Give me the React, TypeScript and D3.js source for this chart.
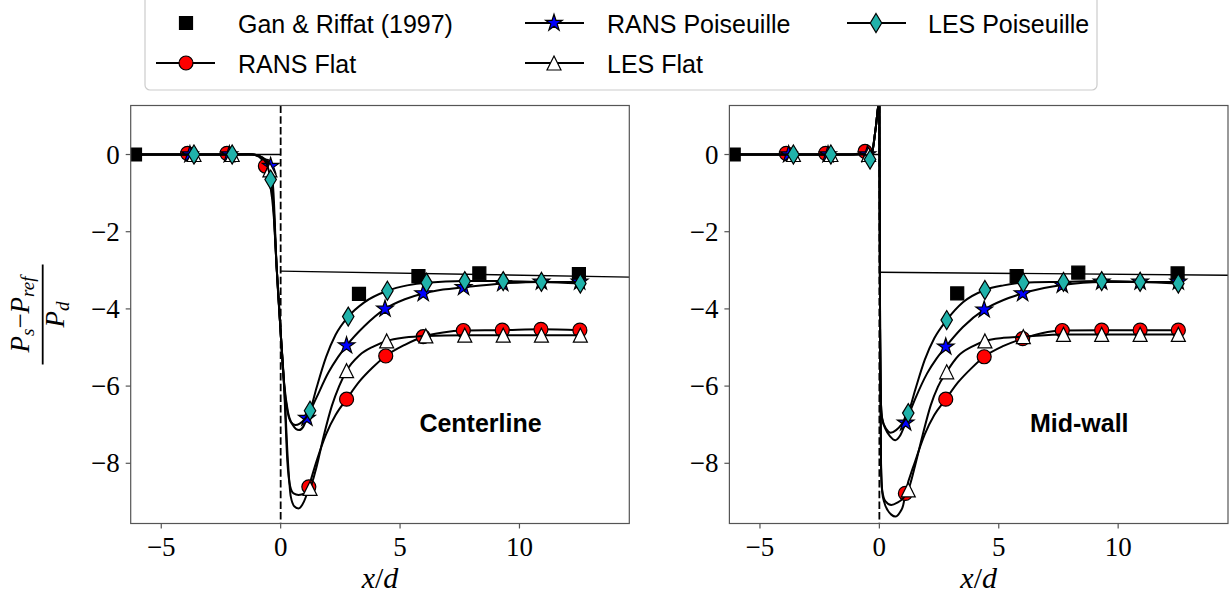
import React from 'react';
import * as d3 from 'd3';

type Pt = [number, number];

// ---------- axes / ticks ----------
const xTicks = [-5, 0, 5, 10];
const yTicks = [0, -2, -4, -6, -8];
const xDomain: [number, number] = [-6.28, 14.6];
const yDomain: [number, number] = [-9.56, 1.27];
const panelLabels = ['Centerline', 'Mid-wall'];
const legendLabels = ['Gan & Riffat (1997)', 'RANS Flat', 'RANS Poiseuille', 'LES Flat', 'LES Poiseuille'];

// ---------- experimental data (Gan & Riffat 1997) ----------
const ganCenter: Pt[] = [[-6.1, 0], [3.28, -3.61], [5.77, -3.15], [8.32, -3.08], [12.49, -3.1]];
const ganMidwall: Pt[] = [[-6.1, 0], [3.26, -3.6], [5.75, -3.15], [8.33, -3.06], [12.49, -3.08]];

// ---------- reference lines ----------
const refUpstream: Pt[] = [[-6.1, 0], [0, 0]];
const refCenterDown: Pt[] = [[0, -3.02], [15, -3.18]];
const refMidwallDown: Pt[] = [[0, -3.05], [15, -3.13]];

// ---------- Centerline curves ----------
const ransFlatCenterCurve: Pt[] = [[-6.1, 0], [-5, 0], [-3.9, 0], [-2.25, 0], [-1.2, 0], [-0.9, -0.06], [-0.64, -0.3], [-0.45, -0.75], [-0.3, -1.5], [-0.17, -2.9], [0, -4.6], [0.15, -6.0], [0.3, -7.9], [0.42, -8.85], [0.58, -9.12], [0.75, -9.17], [0.9, -9.08], [1.05, -8.88], [1.18, -8.61], [1.5, -7.95], [1.9, -7.25], [2.3, -6.75], [2.76, -6.34], [3.3, -5.88], [3.85, -5.52], [4.4, -5.22], [5.2, -4.93], [5.97, -4.72], [6.8, -4.61], [7.65, -4.56], [9.28, -4.55], [10.9, -4.53], [12.53, -4.55]];
const ransPoisCenterCurve: Pt[] = [[-6.1, 0], [-5, 0], [-3.8, 0], [-2.15, 0], [-1.2, 0], [-0.75, -0.08], [-0.55, -0.18], [-0.42, -0.3], [-0.3, -1.0], [-0.17, -2.9], [0, -4.6], [0.15, -5.95], [0.3, -6.65], [0.5, -7.0], [0.77, -7.14], [0.95, -7.05], [1.1, -6.83], [1.5, -6.3], [2.0, -5.65], [2.4, -5.25], [2.76, -4.95], [3.5, -4.45], [4.37, -4.0], [5.2, -3.75], [5.97, -3.6], [6.8, -3.5], [7.66, -3.44], [9.3, -3.34], [10.92, -3.3], [12.52, -3.3]];
const lesFlatCenterCurve: Pt[] = [[-6.1, 0], [-5, 0], [-3.63, 0], [-2.03, 0], [-1.2, 0], [-0.8, -0.07], [-0.6, -0.2], [-0.45, -0.4], [-0.32, -1.2], [-0.17, -2.9], [0, -4.6], [0.15, -6.1], [0.28, -7.95], [0.4, -8.6], [0.54, -8.78], [0.75, -8.82], [1.0, -8.78], [1.23, -8.65], [1.5, -8.1], [1.8, -7.3], [2.15, -6.5], [2.45, -6.0], [2.76, -5.6], [3.3, -5.2], [3.9, -4.97], [4.44, -4.83], [5.2, -4.74], [6.08, -4.7], [7.71, -4.68], [9.32, -4.68], [10.92, -4.68], [12.55, -4.68]];
const lesPoisCenterCurve: Pt[] = [[-6.1, 0], [-5, 0], [-3.63, 0], [-2.03, 0], [-1.35, 0.015], [-1.1, 0], [-0.75, -0.1], [-0.55, -0.3], [-0.42, -0.65], [-0.3, -1.3], [-0.17, -2.9], [0, -4.6], [0.15, -6.0], [0.3, -6.7], [0.45, -6.95], [0.62, -7.01], [0.8, -6.97], [1.0, -6.86], [1.23, -6.64], [1.5, -6.05], [1.9, -5.25], [2.3, -4.67], [2.83, -4.2], [3.5, -3.83], [4.47, -3.53], [5.3, -3.39], [6.11, -3.32], [7.71, -3.28], [9.32, -3.28], [10.92, -3.3], [12.55, -3.34]];

// ---------- Centerline markers ----------
const ransFlatCenterMarks: Pt[] = [[-3.9, 0.03], [-2.25, 0.03], [-0.64, -0.3], [1.18, -8.61], [2.76, -6.34], [4.4, -5.22], [5.97, -4.72], [7.65, -4.56], [9.28, -4.55], [10.9, -4.53], [12.53, -4.55]];
const ransPoisCenterMarks: Pt[] = [[-3.8, 0], [-2.15, 0], [-0.42, -0.3], [1.1, -6.83], [2.76, -4.95], [4.37, -4.0], [5.97, -3.6], [7.66, -3.44], [9.3, -3.34], [10.92, -3.3], [12.52, -3.3]];
const lesFlatCenterMarks: Pt[] = [[-3.63, 0], [-2.03, 0], [-0.45, -0.4], [1.23, -8.65], [2.76, -5.6], [4.44, -4.83], [6.08, -4.7], [7.71, -4.68], [9.32, -4.68], [10.92, -4.68], [12.55, -4.68]];
const lesPoisCenterMarks: Pt[] = [[-3.63, 0], [-2.03, 0], [-0.42, -0.65], [1.23, -6.64], [2.83, -4.2], [4.47, -3.53], [6.11, -3.32], [7.71, -3.28], [9.32, -3.28], [10.92, -3.3], [12.55, -3.34]];

// ---------- Mid-wall curves ----------
const ransFlatMidCurve: Pt[] = [[-6.1, 0], [-5, 0], [-3.9, 0], [-2.25, 0], [-1.2, 0], [-0.6, 0.04], [-0.45, 0.02], [-0.32, 0.02], [-0.16, 0.65], [0, 1.4], [0.03, -4.5], [0.07, -8.1], [0.12, -8.75], [0.2, -9.0], [0.35, -9.22], [0.5, -9.33], [0.67, -9.38], [0.85, -9.28], [1.0, -9.08], [1.09, -8.78], [1.5, -7.95], [1.9, -7.25], [2.3, -6.75], [2.78, -6.34], [3.3, -5.9], [3.85, -5.54], [4.39, -5.24], [5.2, -4.96], [6.0, -4.77], [6.8, -4.63], [7.66, -4.56], [9.31, -4.55], [10.92, -4.55], [12.52, -4.55]];
const ransPoisMidCurve: Pt[] = [[-6.1, 0], [-5, 0], [-3.8, 0], [-2.15, 0], [-1.2, 0], [-0.6, 0.02], [-0.45, 0.0], [-0.32, 0.02], [-0.16, 0.65], [0, 1.4], [0.03, -4.5], [0.07, -6.5], [0.12, -6.85], [0.25, -7.1], [0.45, -7.3], [0.67, -7.4], [0.85, -7.3], [1.1, -6.95], [1.5, -6.33], [2.0, -5.67], [2.4, -5.28], [2.78, -4.98], [3.5, -4.47], [4.39, -4.02], [5.2, -3.77], [6.0, -3.6], [6.9, -3.46], [7.66, -3.38], [9.31, -3.3], [10.92, -3.3], [12.52, -3.3]];
const lesFlatMidCurve: Pt[] = [[-6.1, 0], [-5, 0], [-3.6, 0], [-2.0, 0], [-1.2, 0], [-0.6, 0.02], [-0.45, 0.0], [-0.32, 0.02], [-0.16, 0.65], [0, 1.4], [0.03, -4.5], [0.07, -8.0], [0.12, -8.7], [0.25, -8.98], [0.5, -9.08], [0.75, -9.02], [1.0, -8.9], [1.21, -8.69], [1.5, -8.05], [1.8, -7.3], [2.15, -6.5], [2.45, -6.02], [2.82, -5.63], [3.3, -5.22], [3.9, -4.97], [4.42, -4.83], [5.2, -4.75], [6.03, -4.72], [7.71, -4.66], [9.31, -4.66], [10.92, -4.66], [12.52, -4.66]];
const lesPoisMidCurve: Pt[] = [[-6.1, 0], [-5, 0], [-3.6, 0], [-2.03, 0], [-1.2, 0], [-0.6, 0.0], [-0.42, -0.1], [-0.32, 0.02], [-0.16, 0.65], [0, 1.4], [0.03, -4.5], [0.07, -6.5], [0.12, -6.85], [0.3, -7.12], [0.47, -7.21], [0.7, -7.14], [0.95, -6.98], [1.21, -6.7], [1.5, -6.1], [1.9, -5.32], [2.3, -4.76], [2.82, -4.29], [3.5, -3.83], [4.42, -3.51], [5.2, -3.39], [6.03, -3.32], [7.71, -3.3], [9.31, -3.28], [10.92, -3.3], [12.52, -3.34]];

// ---------- Mid-wall markers ----------
const ransFlatMidMarks: Pt[] = [[-3.9, 0.03], [-2.25, 0.03], [-0.6, 0.08], [1.09, -8.78], [2.78, -6.34], [4.39, -5.24], [6.0, -4.77], [7.66, -4.56], [9.31, -4.55], [10.92, -4.55], [12.52, -4.55]];
const ransPoisMidMarks: Pt[] = [[-3.8, 0], [-2.15, 0], [-0.5, 0], [1.1, -6.95], [2.78, -4.98], [4.39, -4.02], [6.0, -3.6], [7.66, -3.38], [9.31, -3.3], [10.92, -3.3], [12.52, -3.3]];
const lesFlatMidMarks: Pt[] = [[-3.6, 0], [-2.03, 0], [-0.45, 0], [1.21, -8.69], [2.82, -5.63], [4.42, -4.83], [6.03, -4.72], [7.71, -4.66], [9.31, -4.66], [10.92, -4.66], [12.52, -4.66]];
const lesPoisMidMarks: Pt[] = [[-3.6, 0], [-2.03, 0], [-0.39, -0.13], [1.21, -6.7], [2.82, -4.29], [4.42, -3.51], [6.03, -3.32], [7.71, -3.3], [9.31, -3.28], [10.92, -3.3], [12.52, -3.34]];

// ---------- styles ----------
type Kind = 'square' | 'circle' | 'star' | 'triangle' | 'diamond';
const seriesStyle: { kind: Kind; fill: string; size: number }[] = [
  { kind: 'circle', fill: '#ff0000', size: 14 },
  { kind: 'star', fill: '#0000ff', size: 17.5 },
  { kind: 'triangle', fill: '#ffffff', size: 14 },
  { kind: 'diamond', fill: '#20b2aa', size: 13.5 },
];
const ganStyle = { kind: 'square' as Kind, fill: '#000000', size: 13 };

const W = 1232;
const H = 602;
const PANEL_W = 498.6;
const PANEL_LEFTS = [130.7, 729.4];
const TOP = 105.5;
const BOTTOM = 523.5;
const FRAME = '#555555';
const SERIF = '"Liberation Serif", "DejaVu Serif", serif';
const SANS = '"Liberation Sans", Arial, sans-serif';

function markerPath(kind: Kind, s: number): string {
  const h = s / 2;
  if (kind === 'square') return `M${-h},${-h}H${h}V${h}H${-h}Z`;
  if (kind === 'triangle') return `M0,${-h}L${h},${h}L${-h},${h}Z`;
  if (kind === 'diamond') {
    const hh = (s * Math.SQRT2) / 2;
    const w = 0.6 * hh;
    return `M0,${-hh}L${w},0L0,${hh}L${-w},0Z`;
  }
  if (kind === 'star') {
    const R = h;
    const r = R * 0.381966;
    let d = '';
    for (let i = 0; i < 10; i++) {
      const a = -Math.PI / 2 + (i * Math.PI) / 5;
      const rr = i % 2 === 0 ? R : r;
      d += (i === 0 ? 'M' : 'L') + (rr * Math.cos(a)).toFixed(2) + ',' + (rr * Math.sin(a)).toFixed(2);
    }
    return d + 'Z';
  }
  return `M${h},0A${h},${h} 0 1,1 ${-h},0A${h},${h} 0 1,1 ${h},0Z`;
}

function Marker({ cx, cy, kind, fill, size }: { cx: number; cy: number; kind: Kind; fill: string; size: number }) {
  return (
    <path
      d={markerPath(kind, size)}
      transform={`translate(${cx},${cy})`}
      fill={fill}
      stroke="#000"
      strokeWidth={1.2}
      strokeLinejoin="miter"
    />
  );
}

interface PanelProps {
  idx: number;
  curves: Pt[][];
  marks: Pt[][];
  gan: Pt[];
  refDown: Pt[];
  label: string;
}

function Panel({ idx, curves, marks, gan, refDown, label }: PanelProps) {
  const left = PANEL_LEFTS[idx];
  const x = d3.scaleLinear().domain(xDomain).range([left, left + PANEL_W]);
  const y = d3.scaleLinear().domain(yDomain).range([BOTTOM, TOP]);
  const smooth = d3.line<Pt>().x((d) => x(d[0])).y((d) => y(d[1])).curve(d3.curveMonotoneX);
  const straight = d3.line<Pt>().x((d) => x(d[0])).y((d) => y(d[1]));
  const clipId = `clip-${idx}`;
  return (
    <g>
      <defs>
        <clipPath id={clipId}>
          <rect x={left} y={TOP} width={PANEL_W} height={BOTTOM - TOP} />
        </clipPath>
      </defs>
      <g clipPath={`url(#${clipId})`}>
        <path d={straight(refUpstream) || ''} fill="none" stroke="#000" strokeWidth={1.4} />
        <path d={straight(refDown) || ''} fill="none" stroke="#000" strokeWidth={1.4} />
        {gan.map((p, i) => (
          <Marker key={'g' + i} cx={x(p[0])} cy={y(p[1])} {...ganStyle} />
        ))}
        {curves.map((c, si) => (
          <g key={'s' + si}>
            <path d={smooth(c) || ''} fill="none" stroke="#000" strokeWidth={2} strokeLinejoin="round" />
            {marks[si].map((p, i) => (
              <Marker key={i} cx={x(p[0])} cy={y(p[1])} {...seriesStyle[si]} />
            ))}
          </g>
        ))}
        <line x1={x(0)} x2={x(0)} y1={TOP} y2={BOTTOM} stroke="#000" strokeWidth={1.8} strokeDasharray="7.5,3.2" />
      </g>
      <rect x={left} y={TOP} width={PANEL_W} height={BOTTOM - TOP} fill="none" stroke={FRAME} strokeWidth={1.2} />
      {xTicks.map((t) => (
        <g key={'xt' + t}>
          <line x1={x(t)} x2={x(t)} y1={BOTTOM} y2={BOTTOM + 5} stroke={FRAME} strokeWidth={1.2} />
          <text x={x(t)} y={BOTTOM + 32} textAnchor="middle" fontFamily={SERIF} fontSize={27} fill="#000">
            {t < 0 ? '\u2212' + Math.abs(t) : String(t)}
          </text>
        </g>
      ))}
      {yTicks.map((t) => (
        <g key={'yt' + t}>
          <line x1={left - 5} x2={left} y1={y(t)} y2={y(t)} stroke={FRAME} strokeWidth={1.2} />
          <text x={left - 11} y={y(t) + 9} textAnchor="end" fontFamily={SERIF} fontSize={27} fill="#000">
            {t < 0 ? '\u2212' + Math.abs(t) : String(t)}
          </text>
        </g>
      ))}
      <text x={left + PANEL_W / 2} y={588} textAnchor="middle" fontFamily={SERIF} fontSize={30} fill="#000">
        <tspan fontStyle="italic">x</tspan>
        <tspan>/</tspan>
        <tspan fontStyle="italic">d</tspan>
      </text>
      <text x={x(8.37)} y={y(-7.19)} textAnchor="middle" fontFamily={SANS} fontWeight="bold" fontSize={25} fill="#000">
        {label}
      </text>
    </g>
  );
}

function Legend() {
  const cols = [
    { l0: 156, mx: 186, tx: 238 },
    { l0: 525, mx: 554, tx: 607 },
    { l0: 847, mx: 876, tx: 928 },
  ];
  const rows = [23, 63];
  const items = [
    { col: 0, row: 0, style: ganStyle, line: false, label: legendLabels[0] },
    { col: 0, row: 1, style: seriesStyle[0], line: true, label: legendLabels[1] },
    { col: 1, row: 0, style: seriesStyle[1], line: true, label: legendLabels[2] },
    { col: 1, row: 1, style: seriesStyle[2], line: true, label: legendLabels[3] },
    { col: 2, row: 0, style: seriesStyle[3], line: true, label: legendLabels[4] },
  ];
  return (
    <g>
      <rect x={145} y={-6} width={952} height={96} rx={5} ry={5} fill="#fff" fillOpacity={0.8} stroke="#cccccc" strokeWidth={1.2} />
      {items.map((it, i) => {
        const c = cols[it.col];
        const yy = rows[it.row];
        return (
          <g key={i}>
            {it.line && <line x1={c.l0} x2={c.l0 + 59} y1={yy} y2={yy} stroke="#000" strokeWidth={2} />}
            <Marker cx={c.mx} cy={yy} {...it.style} />
            <text x={c.tx} y={yy + 9.5} fontFamily={SANS} fontSize={25} fill="#000">
              {it.label}
            </text>
          </g>
        );
      })}
    </g>
  );
}

function YLabel() {
  const cx = 42.7;
  const cy = (TOP + BOTTOM) / 2;
  return (
    <g transform={`translate(${cx},${cy}) rotate(-90)`} fontFamily={SERIF} fill="#000">
      <text x={0} y={-13.5} textAnchor="middle" fontSize={27}>
        <tspan fontStyle="italic">P</tspan>
        <tspan fontSize={19} fontStyle="italic" dy={5}>s</tspan>
        <tspan dy={-5}>{'\u2212'}</tspan>
        <tspan fontStyle="italic">P</tspan>
        <tspan fontSize={19} fontStyle="italic" dy={5}>ref</tspan>
      </text>
      <line x1={-50} x2={50} y1={0} y2={0} stroke="#000" strokeWidth={1.8} />
      <text x={0} y={21} textAnchor="middle" fontSize={27}>
        <tspan fontStyle="italic">P</tspan>
        <tspan fontSize={19} fontStyle="italic" dy={5}>d</tspan>
      </text>
    </g>
  );
}

export default function App() {
  return (
    <svg
      width={W}
      height={H}
      viewBox={`0 0 ${W} ${H}`}
      style={{ position: 'absolute', left: 0, top: 0, background: '#fff' }}
    >
      <rect x={0} y={0} width={W} height={H} fill="#fff" />
      <Panel
        idx={0}
        curves={[ransFlatCenterCurve, ransPoisCenterCurve, lesFlatCenterCurve, lesPoisCenterCurve]}
        marks={[ransFlatCenterMarks, ransPoisCenterMarks, lesFlatCenterMarks, lesPoisCenterMarks]}
        gan={ganCenter}
        refDown={refCenterDown}
        label={panelLabels[0]}
      />
      <Panel
        idx={1}
        curves={[ransFlatMidCurve, ransPoisMidCurve, lesFlatMidCurve, lesPoisMidCurve]}
        marks={[ransFlatMidMarks, ransPoisMidMarks, lesFlatMidMarks, lesPoisMidMarks]}
        gan={ganMidwall}
        refDown={refMidwallDown}
        label={panelLabels[1]}
      />
      <YLabel />
      <Legend />
    </svg>
  );
}
